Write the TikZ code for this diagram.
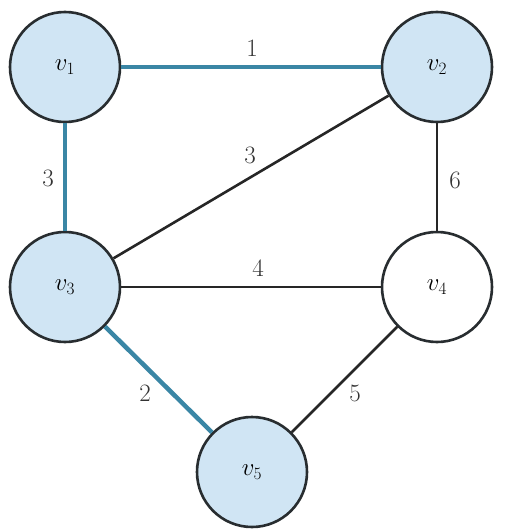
\documentclass[tikz,border=0pt]{standalone}
\definecolor{mstblue}{RGB}{58,134,165}
\definecolor{nodefill}{RGB}{208,229,244}
\definecolor{ringcol}{RGB}{40,45,48}
\begin{document}
\begin{tikzpicture}[x=1pt,y=-1pt,
  vert/.style={circle,draw=ringcol,line width=2.6pt,minimum size=110pt,inner sep=0pt,font=\fontsize{26}{30}\selectfont},
  tree/.style={draw=mstblue,line width=4.5pt},
  plain/.style={draw=black!85,line width=2.6pt},
  wt/.style={font=\fontsize{25}{30}\selectfont,text=black!80}]
\useasboundingbox (0,0) rectangle (512,532);
\node[vert,fill=nodefill] (v1) at (65,67) {$v_1$};
\node[vert,fill=nodefill] (v2) at (437,67) {$v_2$};
\node[vert,fill=nodefill] (v3) at (65,287) {$v_3$};
\node[vert,fill=white] (v4) at (437,287) {$v_4$};
\node[vert,fill=nodefill] (v5) at (252,472) {$v_5$};
\draw[tree] (v1) -- (v2);
\draw[tree] (v1) -- (v3);
\draw[tree] (v3) -- (v5);
\draw[plain] (v2) -- (v3);
\draw[plain] (v2) -- (v4);
\draw[plain] (v3) -- (v4);
\draw[plain] (v4) -- (v5);
\node[wt] (w12) at (252,48) {1};
\node[wt] (w13) at (48,178) {3};
\node[wt] (w23) at (250,155) {3};
\node[wt] (w24) at (455,180) {6};
\node[wt] (w34) at (258,268) {4};
\node[wt] (w35) at (145,393) {2};
\node[wt] (w45) at (355,393) {5};
\end{tikzpicture}
\end{document}
